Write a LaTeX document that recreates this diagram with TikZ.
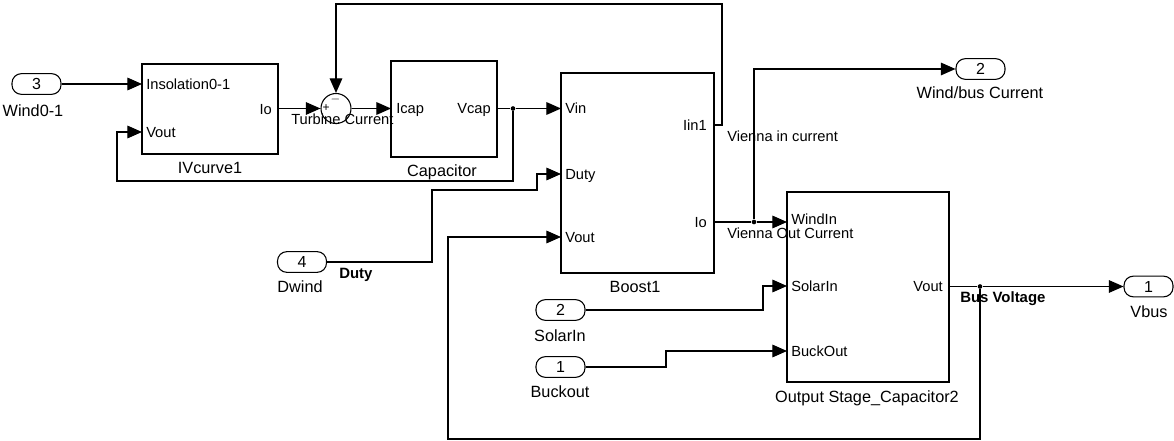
\documentclass[tikz,border=0pt]{standalone}
\usepackage{fontspec}
\setmainfont{Liberation Sans}
\usetikzlibrary{arrows.meta}
\tikzset{
  blk/.style={draw, line width=0.8pt, inner sep=0pt},
  plbl/.style={inner sep=0pt, font=\fontsize{11}{13}\selectfont, text height=7.9pt, text depth=0pt},
  nlbl/.style={inner sep=0pt, font=\fontsize{12.2}{14}\selectfont, text height=8.7pt, text depth=0pt},
  slbl/.style={inner sep=0pt, font=\fontsize{11.2}{13}\selectfont\bfseries, text height=8pt, text depth=0pt},
  io/.style={draw, line width=0.8pt, rounded corners=7pt, minimum width=36.75pt, minimum height=15.5pt, inner sep=0pt, font=\fontsize{12}{14}\selectfont},
  wire/.style={line width=0.9pt},
  sig/.style={wire, -{Triangle[length=11pt,width=9.5pt]}},
  jdot/.style={circle, fill, inner sep=0pt, minimum size=3.5pt},
}
\begin{document}
\begin{tikzpicture}[x=0.75pt,y=-0.75pt]
\useasboundingbox (0,0) rectangle (1174,441);

% ---------- blocks ----------
\node[blk, minimum width=102pt, minimum height=67.5pt] (iv) at (210,109) {};
\node[blk, minimum width=79.5pt, minimum height=72pt] (cap) at (444,109) {};
\node[blk, minimum width=114.75pt, minimum height=150pt] (boost) at (637.5,173) {};
\node[blk, minimum width=121.5pt, minimum height=142.5pt] (outs) at (868,287) {};
\node[draw, circle, line width=0.8pt, minimum size=22.5pt, inner sep=0pt] (sum) at (336,108.5) {};
\node[inner sep=0pt, font=\fontsize{9}{10}\selectfont] (sp) at (326,108.5) {+};
\node[inner sep=0pt, font=\fontsize{9}{10}\selectfont] (sm) at (335.5,100) {$-$};

% block names
\node[nlbl] (ivname) at (210,168) {IVcurve1};
\node[nlbl] (capname) at (442,171) {Capacitor};
\node[nlbl] (boostname) at (635,287) {Boost1};
\node[nlbl] (outsname) at (867,397) {Output Stage\_Capacitor2};

% port labels
\node[plbl, anchor=west] (l1) at (146,84) {Insolation0-1};
\node[plbl, anchor=west] (l2) at (146,132) {Vout};
\node[plbl, anchor=east] (l3) at (272,109) {Io};
\node[plbl, anchor=west] (l4) at (396,108.5) {Icap};
\node[plbl, anchor=east] (l5) at (491,108.5) {Vcap};
\node[plbl, anchor=west] (l6) at (565,108.5) {Vin};
\node[plbl, anchor=west] (l7) at (565,174) {Duty};
\node[plbl, anchor=west] (l8) at (565,237) {Vout};
\node[plbl, anchor=east] (l9) at (707,125) {Iin1};
\node[plbl, anchor=east] (l10) at (707,222) {Io};
\node[plbl, anchor=west] (l11) at (791,219.5) {WindIn};
\node[plbl, anchor=west] (l12) at (791,286) {SolarIn};
\node[plbl, anchor=west] (l13) at (791,351) {BuckOut};
\node[plbl, anchor=east] (l14) at (943,286) {Vout};

% ---------- in/out ports ----------
\node[io] (in3) at (36.5,84) {3};
\node[nlbl] (in3n) at (33,111) {Wind0-1};
\node[io] (in4) at (302,262) {4};
\node[nlbl] (in4n) at (300,287) {Dwind};
\node[io] (inS) at (560.5,310) {2};
\node[nlbl] (inSn) at (560,336) {SolarIn};
\node[io] (inB) at (560.5,367) {1};
\node[nlbl] (inBn) at (560,392) {Buckout};
\node[io] (out2) at (980.5,69) {2};
\node[nlbl] (out2n) at (980,93) {Wind/bus Current};
\node[io] (out1) at (1148.5,286.5) {1};
\node[nlbl] (out1n) at (1149,312) {Vbus};

% ---------- port coordinates ----------
\coordinate (ivIns) at (142,84);
\coordinate (ivVout) at (142,132);
\coordinate (ivIo) at (278,108.5);
\coordinate (capIcap) at (391,108.5);
\coordinate (capVcap) at (497,108.5);
\coordinate (bVin) at (561,108.5);
\coordinate (bDuty) at (561,174);
\coordinate (bVout) at (561,237);
\coordinate (bIin) at (714,125);
\coordinate (bIo) at (714,222);
\coordinate (oWind) at (787,222);
\coordinate (oSolar) at (787,286);
\coordinate (oBuck) at (787,351);
\coordinate (oVout) at (949,286.5);

% junctions
\node[jdot] (j1) at (513,108.5) {};
\node[jdot] (j2) at (754,222) {};
\node[jdot] (j3) at (980,286.5) {};

% ---------- connectors ----------
\draw[sig] (in3.east) -- (ivIns);
\draw[sig] (ivIo) -- (sum.west);
\draw[sig] (sum.east) -- (capIcap);
\draw[wire] (capVcap) -- (j1);
\draw[sig] (j1) -- (bVin);
\draw[sig] (j1) -- (513,181) -- (117,181) -- (117,132) -- (ivVout);
\draw[sig] (bIin) -- (722,125) -- (722,4) -- (336,4) -- (sum.north);
\draw[wire] (bIo) -- (j2);
\draw[sig] (j2) -- (oWind);
\draw[sig] (j2) -- (754,69) -- (out2.west);
\draw[wire] (oVout) -- (j3);
\draw[sig] (j3) -- (out1.west);
\draw[sig] (j3) -- (980,439) -- (448,439) -- (448,237) -- (bVout);
\draw[sig] (in4.east) -- (432,262) -- (432,190) -- (537,190) -- (537,174) -- (bDuty);
\draw[sig] (inS.east) -- (763,310) -- (763,286) -- (oSolar);
\draw[sig] (inB.east) -- (666,367) -- (666,351) -- (oBuck);

% signal labels
\node[plbl, anchor=west] (s1) at (291,119.5) {Turbine Current};
\node[plbl, anchor=west] (s2) at (727,136) {Vienna in current};
\node[plbl, anchor=west] (s3) at (727,233) {Vienna Out Current};
\node[slbl, anchor=west] (s4) at (339,273) {Duty};
\node[slbl, anchor=west] (s5) at (960,297) {Bus Voltage};
\end{tikzpicture}
\end{document}
